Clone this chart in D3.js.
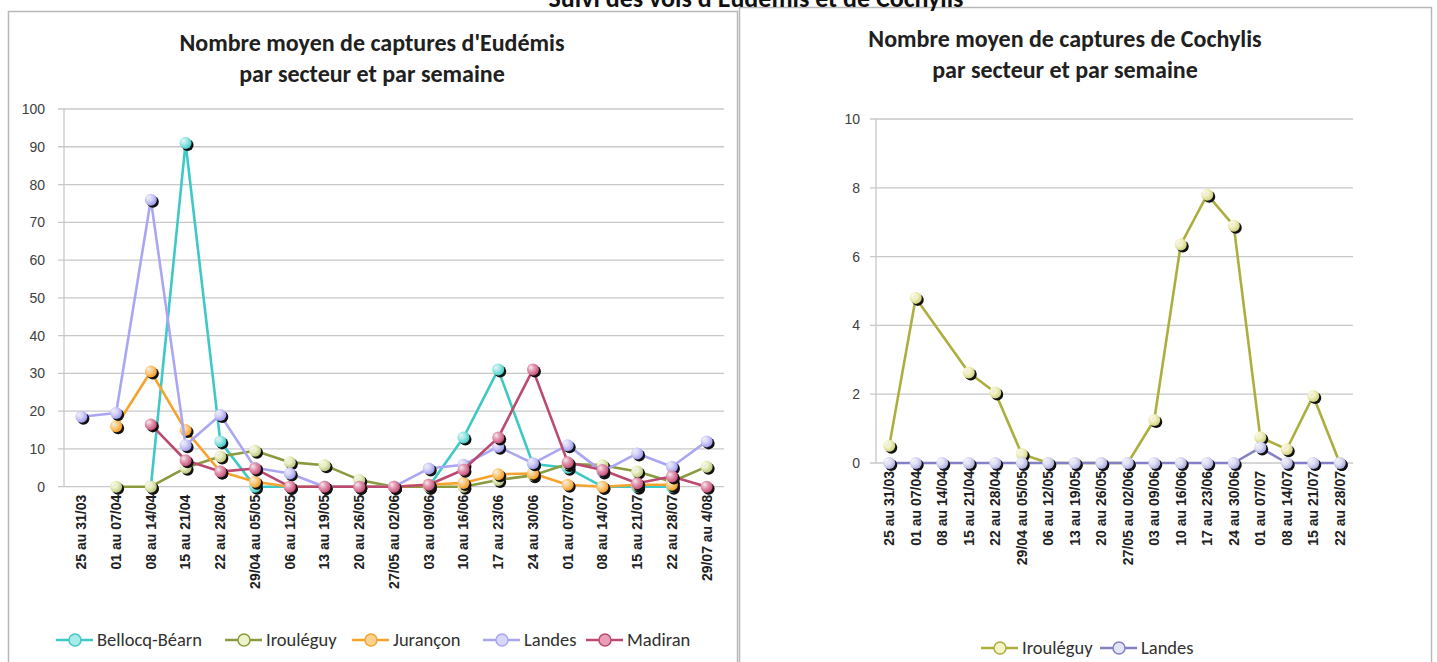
<!DOCTYPE html>
<html>
<head>
<meta charset="utf-8">
<script src="https://d3js.org/d3.v7.min.js"></script>
<style>
body { margin: 0; background: #fff; }
svg { display: block; font-family: Carlito, Lato, "Liberation Sans", sans-serif; }
.grid line { stroke: #c8c8c8; stroke-width: 1.3px; }
.ytick text { fill: #404040; font-size: 14px; }
.xtick text { fill: #202020; font-size: 14px; font-weight: bold; }
.title { font-weight: bold; font-size: 24px; fill: #202020; }
.legend text { font-size: 18.5px; fill: #303030; }
</style>
</head>
<body>
<div id="chart"></div>
<script>
// ---- data ----
var categories = ["25 au 31/03", "01 au 07/04", "08 au 14/04", "15 au 21/04", "22 au 28/04",
  "29/04 au 05/05", "06 au 12/05", "13 au 19/05", "20 au 26/05", "27/05 au 02/06",
  "03 au 09/06", "10 au 16/06", "17 au 23/06", "24 au 30/06", "01 au 07/07",
  "08 au 14/07", "15 au 21/07", "22 au 28/07", "29/07 au 4/08"];

var bellocq   = [null, null, 0, 91, 12, 0, 0, 0, 0, 0, 0, 13, 31, 6, 5, 0, 0, 0, null];
var irouleguy = [null, 0, 0, 5, 8, 9.5, 6.5, 5.7, 1.8, 0, 0, 0, 1.8, 3, 6, 5.7, 4, 1.3, 5.3];
var jurancon  = [null, 16, 30.5, 15, 4, 1.3, 0, 0, 0, 0, 0.5, 1, 3.3, 3.5, 0.5, 0, 0.5, 0.5, null];
var landes    = [18.5, 19.5, 76, 11, 19, 5, 3.5, 0, 0, 0, 4.8, 5.8, 10.6, 6.2, 11, 4, 8.8, 5.3, 12];
var madiran   = [null, null, 16.5, 7, 4, 4.8, 0, 0, 0, 0, 0.5, 4.5, 13, 31, 6.5, 4.4, 0.9, 2.7, 0];

var categoriesCo = categories.slice(0, 18);
var irouleguyCo = [0.5, 4.8, null, 2.63, 2.05, 0.26, 0, 0, 0, 0, 1.25, 6.35, 7.8, 6.9, 0.75, 0.4, 1.95, 0];
var landesCo    = [0, 0, 0, 0, 0, 0, 0, 0, 0, 0, 0, 0, 0, 0, 0.45, 0, 0, 0];

var yTicksEu = [0, 10, 20, 30, 40, 50, 60, 70, 80, 90, 100];
var yTicksCo = [0, 2, 4, 6, 8, 10];

var W = 1437, H = 662;
var svg = d3.select("#chart").append("svg").attr("width", W).attr("height", H);
var defs = svg.append("defs");

// ball gradients
function ballGradient(id, light, base) {
  var g = defs.append("radialGradient").attr("id", id)
    .attr("cx", "35%").attr("cy", "35%").attr("r", "70%");
  g.append("stop").attr("offset", "0%").attr("stop-color", "#fff").attr("stop-opacity", 0.9);
  g.append("stop").attr("offset", "35%").attr("stop-color", light);
  g.append("stop").attr("offset", "100%").attr("stop-color", base);
}

// frames
svg.append("rect").attr("x", 8.5).attr("y", 11.5).attr("width", 729).attr("height", 660)
  .attr("fill", "#fff").attr("stroke", "#b8b8b8").attr("stroke-width", 1.5);
svg.append("rect").attr("x", 739.5).attr("y", 7.5).attr("width", 692).attr("height", 660)
  .attr("fill", "#fff").attr("stroke", "#b8b8b8").attr("stroke-width", 1.5);

// main title, cut by the top edge as in the source
svg.append("text").attr("x", 756).attr("y", 7).attr("text-anchor", "middle")
  .attr("font-size", 26).attr("font-weight", "bold").attr("fill", "#111")
  .text("Suivi des vols d'Eudémis et de Cochylis");

function drawChart(opt) {
  var g = svg.append("g");
  var x = d3.scaleBand().domain(opt.cats).range(opt.xr);
  var y = d3.scaleLinear().domain([0, opt.ymax]).range(opt.yr);
  var cx = function(i) { return x(opt.cats[i]) + x.bandwidth() / 2; };

  // titles
  opt.title.forEach(function(t, i) {
    g.append("text").attr("class", "title").attr("x", opt.titleX).attr("y", opt.titleY + i * 31)
      .attr("text-anchor", "middle").text(t);
  });

  // grid
  g.append("g").attr("class", "grid").selectAll("line").data(opt.yticks).enter().append("line")
    .attr("x1", opt.xr[0] - 6).attr("x2", opt.xr[1])
    .attr("y1", function(d) { return y(d); }).attr("y2", function(d) { return y(d); });
  g.append("line").attr("x1", opt.xr[0]).attr("x2", opt.xr[0])
    .attr("y1", opt.yr[1]).attr("y2", opt.yr[0]).attr("stroke", "#c8c8c8").attr("stroke-width", 1.3);

  // y axis labels
  var ya = g.append("g").attr("transform", "translate(" + opt.xr[0] + ",0)")
    .call(d3.axisLeft(y).tickValues(opt.yticks).tickSize(0).tickPadding(opt.ypad));
  ya.select(".domain").remove();
  ya.selectAll(".tick").attr("class", "ytick");
  ya.selectAll("text").attr("font-family", null).attr("font-size", null);

  // x axis labels
  var xa = g.append("g").attr("transform", "translate(0," + opt.yr[0] + ")")
    .call(d3.axisBottom(x).tickSize(0).tickPadding(0));
  xa.select(".domain").remove();
  xa.selectAll(".tick").attr("class", "xtick");
  xa.selectAll("text").attr("font-family", null).attr("font-size", null)
    .attr("transform", "rotate(-90)").attr("text-anchor", "end")
    .attr("x", -8).attr("y", 0).attr("dy", "0.35em");

  // series
  opt.series.forEach(function(s, k) {
    ballGradient(opt.id + k, s.light, s.fill);
    var pts = s.values.map(function(v, i) { return { i: i, v: v }; })
      .filter(function(p) { return p.v !== null; });
    var line = d3.line().x(function(p) { return cx(p.i); }).y(function(p) { return y(p.v); });
    g.append("path").datum(pts).attr("d", line).attr("fill", "none")
      .attr("stroke", s.color).attr("stroke-width", 2.6).attr("stroke-linejoin", "round");
    var m = g.append("g").selectAll("g").data(pts).enter().append("g")
      .attr("transform", function(p) { return "translate(" + cx(p.i) + "," + y(p.v) + ")"; });
    m.append("circle").attr("cx", 2).attr("cy", 2).attr("r", 6).attr("fill", "#111");
    m.append("circle").attr("r", 6).attr("fill", "url(#" + opt.id + k + ")");
  });

  // legend
  var lg = g.append("g").attr("class", "legend");
  opt.series.forEach(function(s, k) {
    var lx = opt.legendX[k], ly = opt.legendY;
    lg.append("line").attr("x1", lx - 41).attr("x2", lx - 4).attr("y1", ly).attr("y2", ly)
      .attr("stroke", s.color).attr("stroke-width", 2.6);
    lg.append("circle").attr("cx", lx - 22).attr("cy", ly).attr("r", 6)
      .attr("fill", s.light).attr("stroke", s.color).attr("stroke-width", 1.5);
    lg.append("text").attr("x", lx).attr("y", ly).attr("dy", "0.35em").text(s.name);
  });
}

drawChart({
  id: "eu",
  cats: categories,
  xr: [64, 724], yr: [486.7, 109], ymax: 100, yticks: yTicksEu, ypad: 19,
  title: ["Nombre moyen de captures d'Eudémis", "par secteur et par semaine"],
  titleX: 372, titleY: 51,
  legendX: [97, 266, 393, 524, 627], legendY: 640,
  series: [
    { name: "Bellocq-Béarn", values: bellocq, color: "#3ec9c6", light: "#a8ecea", fill: "#3ec9c6" },
    { name: "Irouléguy", values: irouleguy, color: "#8a9a3e", light: "#eef2c8", fill: "#b8c47a" },
    { name: "Jurançon", values: jurancon, color: "#f6a32e", light: "#fcd290", fill: "#f39a20" },
    { name: "Landes", values: landes, color: "#aaa6f2", light: "#d8d6fa", fill: "#9a96ea" },
    { name: "Madiran", values: madiran, color: "#bb4a70", light: "#e8a0b8", fill: "#c04a72" }
  ]
});

drawChart({
  id: "co",
  cats: categoriesCo,
  xr: [876, 1353], yr: [463, 119], ymax: 10, yticks: yTicksCo, ypad: 16,
  title: ["Nombre moyen de captures de Cochylis", "par secteur et par semaine"],
  titleX: 1065, titleY: 47,
  legendX: [1022, 1141], legendY: 648,
  series: [
    { name: "Irouléguy", values: irouleguyCo, color: "#acae3e", light: "#f4f4c8", fill: "#cfd07c" },
    { name: "Landes", values: landesCo, color: "#8480c6", light: "#e4e4f8", fill: "#a8a8dc" }
  ]
});
</script>
</body>
</html>
